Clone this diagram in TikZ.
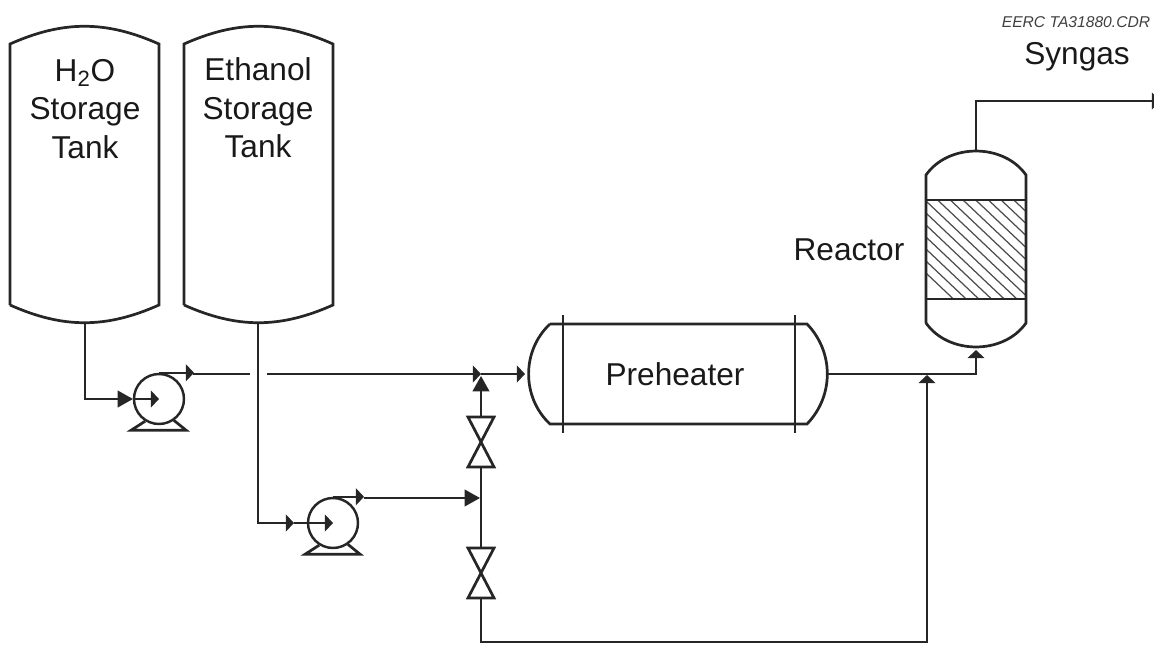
\documentclass[tikz,border=0pt]{standalone}
\usepackage{fontspec}
\setmainfont{Liberation Sans}
\usetikzlibrary{arrows.meta,calc}
\tikzset{
  vessel/.style={line width=1.55pt, draw=black!85},
  pipe/.style={line width=1.25pt, draw=black!85},
  longtip/.style={-{Triangle[length=8.8pt,width=9.5pt]}},
  pumpbox/.style={draw=black!85, circle, fill=white, line width=1.4pt, minimum size=1cm, inner sep=0pt},
  tag/.style={font=\fontsize{18}{22}\selectfont, align=center, text=black!90, inner sep=0pt},
  valve/.pic={
    \draw [vessel, fill=white] (-13,-25) -- (13,-25) -- (-13,25) -- (13,25) -- cycle;
    \coordinate (-top) at (0,-25);
    \coordinate (-bottom) at (0,25);
  }
}
\begin{document}
\begin{tikzpicture}[x=0.02cm, y=-0.02cm, >={Triangle[length=4.6pt,width=9.5pt]}]
    \useasboundingbox (0,0) rectangle (1154,646);
    \coordinate (wateroutlet) at (85,323);
    \coordinate (ethanoloutlet) at (258,323);
    \coordinate (preheaterin) at (525,374);
    \coordinate (preheaterout) at (828,374);
    \coordinate (junction) at (481,374);
    \coordinate (tee) at (480,498);
    \coordinate (mixpoint) at (927,375);
    \coordinate (reactorin) at (976,350);
    \coordinate (reactorout) at (976,151);
    \coordinate (corner) at (927,642);
    \coordinate (synout) at (1160,101);
    \draw [vessel]
      (10,305) -- (10,44)
      to [out=24,in=156] (159,44)
      -- (159,305)
      to [out=204,in=-24] (10,305)
    ;
    \draw [vessel]
      (184,305) -- (184,44)
      to [out=24,in=156] (333,44)
      -- (333,305)
      to [out=204,in=-24] (184,305)
    ;
    \node (watertank) at (85,109) [tag] {H\textsubscript{2}O\\Storage\\Tank};
    \node (ethanoltank) at (258,108) [tag] {Ethanol\\Storage\\Tank};
    \node (pumpa) at (159,399) [pumpbox] {};
    \node (pumpb) at (333,523) [pumpbox] {};
    \foreach \pump in {pumpa,pumpb} {
      \draw [vessel] (\pump.-122) -- ++(-14,9) -- ++(55,0) -- (\pump.-55);
    }
    \draw [pipe, longtip] (wateroutlet) |- ++(48,76);
    \draw [pipe, ->] (pumpa.west) -- (pumpa.center);
    \draw [pipe, ->] (pumpa.north) -- ++(35,0);
    \draw [pipe] (193,374) -- (250,374);
    \draw [pipe, ->] (267,374) -- (junction);
    \draw [pipe, ->] (junction) -- (preheaterin);
    \draw [pipe, ->] (ethanoloutlet) |- ++(36,200);
    \draw [pipe, ->] (294,523) -- (pumpb.center);
    \draw [pipe, ->] (pumpb.north) -- ++(31,0);
    \draw [pipe, longtip] (364,498) -- (tee);
    \pic (valveup) at (481,442) {valve};
    \pic (valvedown) at (481,573) {valve};
    \draw [pipe, longtip] (valveup-top) -- ($(junction)+(0,2)$);
    \draw [pipe] (valveup-bottom) -- (valvedown-top);
    \draw [pipe, ->] (valvedown-bottom) |- (corner) -- (mixpoint);
    \draw [vessel]
      (550,324) -- (807,324)
      to [out=-46,in=46] (807,424)
      -- (550,424)
      to [out=137,in=-137] (550,324)
    ;
    \draw [vessel] (563,315) -- ++(0,118);
    \draw [vessel] (795,315) -- ++(0,118);
    \node (preheater) at (675,374) [tag] {Preheater};
    \draw [pipe, ->] (preheaterout) -| (reactorin);
    \begin{scope}
      \clip (926,200) rectangle (1026,299);
      \foreach \k in {-9,...,5} {
        \draw [line width=0.7pt, black!70] (963+\k*12.7,200) -- ++(110,104);
      }
    \end{scope}
    \draw [vessel]
      (926,323) -- (926,175)
      to [out=55,in=125] (1026,175)
      -- (1026,323)
      to [out=-125,in=-55] (926,323)
    ;
    \draw [vessel] (926,200) -- (1026,200);
    \draw [vessel] (926,299) -- (1026,299);
    \node (reactor) at (849,250) [tag] {Reactor};
    \draw [pipe, ->] (reactorout) |- (synout);
    \node (syngas) at (1077,57) [tag] {Syngas};
    \node (drawingid) at (1076,22) [font=\fontsize{8.9}{10}\selectfont\itshape, text=black!75, inner sep=0pt] {EERC TA31880.CDR};
\end{tikzpicture}
\end{document}
